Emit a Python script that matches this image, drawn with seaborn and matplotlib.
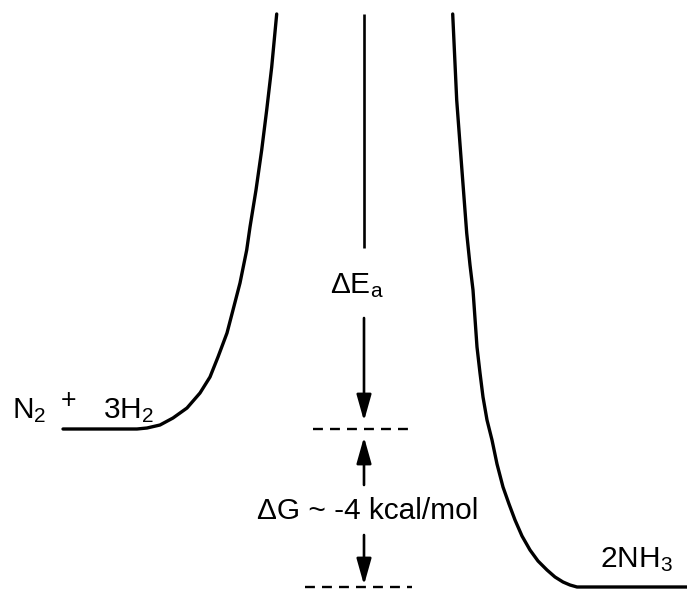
import numpy as np
import pandas as pd
import matplotlib
matplotlib.use("Agg")
import matplotlib.pyplot as plt
import seaborn as sns

# krzywa energii (wspolrzedne w pikselach obrazu, y rosnie w dol)
lewa_x = [63, 137, 147, 160, 173, 187, 200, 210, 218, 227, 233, 240, 246.7, 250, 256, 261.7, 266.7, 271.7, 276.7]
lewa_y = [429, 429, 428, 425, 418, 408, 393, 377, 357, 333, 310, 283, 250, 227, 190, 150, 110, 67, 14]
prawa_x = [452.7, 456.7, 461.7, 466.7, 470, 473, 477, 480, 483, 487, 492, 497, 503, 509, 515, 522, 530, 538, 547, 555, 563, 570, 577, 587, 687]
prawa_y = [14, 100, 167, 233, 265, 290, 347, 373, 397, 420, 440, 464, 487, 504, 520, 536, 550, 561, 570, 577, 582, 585, 587, 587, 587]

poziom_substr = 429
poziom_prod = 587
os_x = 364

sns.set_style("white")
plt.rcParams['font.family'] = ['Liberation Sans', 'DejaVu Sans']
plt.rcParams['mathtext.fontset'] = 'custom'
plt.rcParams['mathtext.rm'] = 'Liberation Sans'
plt.rcParams['mathtext.it'] = 'Liberation Sans'
plt.rcParams['text.color'] = 'black'

fig = plt.figure(figsize=(6.87, 5.90), dpi=100)
ax = fig.add_axes([0, 0, 1, 1])

df_l = pd.DataFrame({"x": lewa_x, "y": lewa_y})
df_p = pd.DataFrame({"x": prawa_x, "y": prawa_y})
sns.lineplot(data=df_l, x="x", y="y", sort=False, color="k", lw=2.4, ax=ax)
sns.lineplot(data=df_p, x="x", y="y", sort=False, color="k", lw=2.4, ax=ax)

# pionowa linia srodkowa
ax.plot([os_x, os_x], [14, 248], color="k", lw=1.9, solid_capstyle="butt")

# linie przerywane
ax.plot([313, 412], [poziom_substr, poziom_substr], color="k", lw=1.7, ls=(0, (4.2, 3)))
ax.plot([305, 412], [poziom_prod, poziom_prod], color="k", lw=1.7, ls=(0, (4.2, 3)))

strzalka = dict(arrowstyle="-|>,head_length=1.6,head_width=0.45", color="k", lw=1.9, shrinkA=0, shrinkB=0)
ax.annotate("", xy=(os_x, 421), xytext=(os_x, 318), arrowprops=strzalka)
ax.annotate("", xy=(os_x, 437), xytext=(os_x, 485), arrowprops=strzalka)
ax.annotate("", xy=(os_x, 585), xytext=(os_x, 535), arrowprops=strzalka)

fs = 21.5
ax.text(330, 286, r"ΔE$_\mathregular{a}$", fontsize=fs, ha="left", va="center")
ax.text(368, 511, "ΔG ~ -4 kcal/mol", fontsize=fs, ha="center", va="center")
ax.text(12, 411, r"N$_\mathregular{2}$", fontsize=fs, ha="left", va="center")
ax.text(61, 401, "+", fontsize=fs * 0.9, ha="left", va="center")
ax.text(103, 411, r"3H$_\mathregular{2}$", fontsize=fs, ha="left", va="center")
ax.text(600, 560, r"2NH$_\mathregular{3}$", fontsize=fs, ha="left", va="center")

ax.set_xlim(0, 687)
ax.set_ylim(590, 0)
ax.axis("off")
fig.savefig("out.png", dpi=100)
